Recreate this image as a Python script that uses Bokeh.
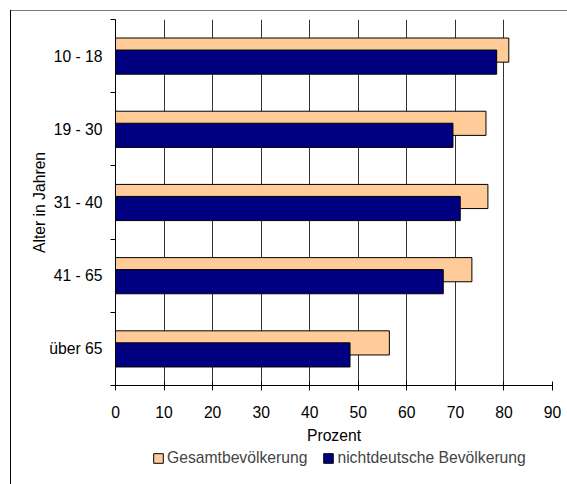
from bokeh.plotting import figure
from bokeh.layouts import column
from bokeh.models import Range1d, FixedTicker, Legend, LegendItem, ColumnDataSource, Label
from bokeh.embed import file_html
from bokeh.resources import INLINE

categories = ["10 - 18", "19 - 30", "31 - 40", "41 - 65", "über 65"]
gesamt = [81.0, 76.3, 76.7, 73.4, 56.4]
nichtdeutsch = [78.5, 69.5, 71.0, 67.5, 48.3]
x_ticks = [0, 10, 20, 30, 40, 50, 60, 70, 80, 90]
series_names = ["Gesamtbevölkerung", "nichtdeutsche Bevölkerung"]
title_text = "Nutzung nach Altersgruppen und Staatsangehörigkeit"

FONT = "Liberation Sans"
FS = "15.7px"
C_GES = "#FFCC99"
C_ND = "#000080"

pos = list(range(len(categories)))
src_g = ColumnDataSource(dict(y=[p - 0.082 for p in pos], right=gesamt))
src_n = ColumnDataSource(dict(y=[p + 0.082 for p in pos], right=nichtdeutsch))

p = figure(frame_width=437, frame_height=366,
           min_border_left=115, min_border_top=19, min_border_right=15, min_border_bottom=60,
           x_range=Range1d(0, 90), y_range=Range1d(len(categories) - 0.5, -0.5),
           output_backend="svg", toolbar_location=None, tools="")
p.border_fill_color = None
p.background_fill_color = "white"
p.outline_line_color = None

p.hbar(y="y", left=0, right="right", height=0.33, source=src_g,
       fill_color=C_GES, line_color="black", line_width=1)
p.hbar(y="y", left=0, right="right", height=0.33, source=src_n,
       fill_color=C_ND, line_color="black", line_width=1)

# x axis
p.xaxis.ticker = FixedTicker(ticks=x_ticks)
p.xaxis.major_tick_in = 4
p.xaxis.major_tick_out = 5
p.xaxis.minor_tick_line_color = None
p.xaxis.axis_line_color = "black"
p.xaxis.major_tick_line_color = "black"
p.xaxis.major_label_text_font = FONT
p.xaxis.major_label_text_font_size = FS
p.xaxis.major_label_text_color = "black"
p.xaxis.major_label_standoff = 15
p.xaxis.axis_label = "Prozent"
p.xaxis.axis_label_text_font = FONT
p.xaxis.axis_label_text_font_size = FS
p.xaxis.axis_label_text_font_style = "normal"
p.xaxis.axis_label_text_color = "black"
p.xaxis.axis_label_standoff = 6

# y axis
p.yaxis.ticker = FixedTicker(ticks=pos, minor_ticks=[i - 0.5 for i in range(len(categories) + 1)])
p.yaxis.major_label_overrides = {i: c for i, c in enumerate(categories)}
p.yaxis.major_tick_in = 0
p.yaxis.major_tick_out = 0
p.yaxis.minor_tick_in = 0
p.yaxis.minor_tick_out = 5
p.yaxis.minor_tick_line_color = "black"
p.yaxis.axis_line_color = "black"
p.yaxis.major_label_text_font = FONT
p.yaxis.major_label_text_font_size = FS
p.yaxis.major_label_text_color = "black"
p.yaxis.major_label_standoff = 8
p.yaxis.axis_label = "Alter in Jahren"
p.yaxis.axis_label_text_font = FONT
p.yaxis.axis_label_text_font_size = FS
p.yaxis.axis_label_text_font_style = "normal"
p.yaxis.axis_label_text_color = "black"
p.yaxis.axis_label_standoff = -2

p.xgrid.ticker = FixedTicker(ticks=x_ticks)
p.xgrid.grid_line_color = "#333333"
p.xgrid.grid_line_width = 1
p.ygrid.grid_line_color = None

title = Label(x=-21.6, y=-0.732, text=title_text, text_font="Liberation Serif",
              text_font_style="bold", text_font_size="14px", text_baseline="alphabetic",
              text_color="black")
p.add_layout(title)

# legend strip: same series renderers, their bars fall outside this strip's range
p2 = figure(frame_width=437, frame_height=39, min_border_left=115, min_border_top=0,
            min_border_right=15, min_border_bottom=0,
            x_range=Range1d(0, 90), y_range=Range1d(100, 101),
            output_backend="svg", toolbar_location=None, tools="")
p2.axis.visible = False
p2.grid.visible = False
p2.outline_line_color = None
p2.border_fill_color = None
p2.background_fill_color = None
lg = p2.hbar(y="y", left=0, right="right", height=0.33, source=src_g,
             fill_color=C_GES, line_color="black", line_width=1)
ln = p2.hbar(y="y", left=0, right="right", height=0.33, source=src_n,
             fill_color=C_ND, line_color="black", line_width=1)
legend = Legend(items=[LegendItem(label=series_names[0], renderers=[lg]),
                       LegendItem(label=series_names[1], renderers=[ln])],
                orientation="horizontal", location=(37, 18),
                label_text_font=FONT, label_text_font_size=FS,
                glyph_width=12, glyph_height=12, label_standoff=3, spacing=15,
                padding=0, margin=0, border_line_color=None, background_fill_alpha=0,
                label_height=16)
p2.add_layout(legend)

layout = column(p, p2, spacing=0)
layout.styles = {
    "background-color": "white",
    "background-image": "linear-gradient(#000000, #000000), linear-gradient(#7a7a7a, #7a7a7a)",
    "background-size": "1px calc(100% - 10px), calc(100% - 10px) 1px",
    "background-position": "10px 10px, 10px 10px",
    "background-repeat": "no-repeat",
}

open("out.html", "w").write(file_html(layout, INLINE))
